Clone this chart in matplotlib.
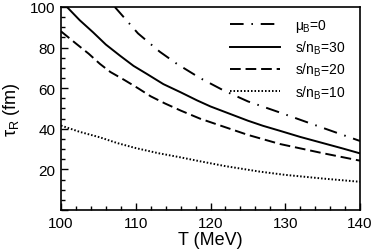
import matplotlib
matplotlib.use("Agg")
import matplotlib.pyplot as plt
from matplotlib.ticker import MultipleLocator, FuncFormatter

plt.rcParams['font.family'] = ['Liberation Sans', 'DejaVu Sans']
plt.rcParams['mathtext.fontset'] = 'custom'
plt.rcParams['mathtext.rm'] = 'Liberation Sans'
plt.rcParams['mathtext.it'] = 'Liberation Sans'

# data
T_mu0 = [107.2, 110.3, 113.2, 115.5, 118.6, 121.7, 125, 129.3, 135, 140]
tau_mu0 = [100, 87, 78, 72, 65, 59, 53.5, 48, 40.5, 34]

T_s30 = [100.8, 102.5, 104.3, 106, 107.9, 109.7, 111.5, 113.7, 116, 118.2, 120, 122.5, 125, 127, 129.3, 132, 135, 137.5, 140]
tau_s30 = [100, 93.5, 87.5, 81.5, 76, 71, 67, 62, 58, 54, 51, 47.5, 44, 41.5, 39, 36, 33, 30.5, 27.9]

T_s20 = [100, 102, 103.7, 105.2, 106.6, 108.5, 110.3, 112, 113.9, 116, 118.6, 121, 125, 129.3, 135, 140]
tau_s20 = [88, 82, 77, 72, 68, 64, 60, 56, 52.5, 49, 45, 42, 37, 32.5, 28, 24.3]

T_s10 = [100, 102.5, 105.2, 107.5, 110, 113, 115.9, 118.6, 122, 126.6, 130, 135, 140]
tau_s10 = [41.6, 38.5, 35.8, 33, 30.5, 28, 26, 24, 21.6, 18.9, 17.3, 15.5, 13.9]

labels = [r'$\mu_\mathrm{B}$=0', r's/n$_\mathrm{B}$=30', r's/n$_\mathrm{B}$=20', r's/n$_\mathrm{B}$=10']

fig = plt.figure(figsize=(3.74, 2.53), dpi=100)
ax = fig.add_axes([61/374, 1-211/253, (360-61)/374, (211-8)/253])

lw = 1.4
ax.plot(T_mu0, tau_mu0, color='black', lw=lw, dashes=(7, 4, 0.8, 4), label=labels[0])
ax.plot(T_s30, tau_s30, color='black', lw=lw, label=labels[1])
ax.plot(T_s20, tau_s20, color='black', lw=lw, dashes=(5.5, 2.5), label=labels[2])
ax.plot(T_s10, tau_s10, color='black', lw=lw, dashes=(0.8, 1.0), label=labels[3])

ax.set_xlim(100, 140)
ax.set_ylim(0, 100)
ax.xaxis.set_major_locator(MultipleLocator(10))
ax.xaxis.set_minor_locator(MultipleLocator(2))
ax.yaxis.set_major_locator(MultipleLocator(20))
ax.yaxis.set_minor_locator(MultipleLocator(5))
ax.yaxis.set_major_formatter(FuncFormatter(lambda v, p: '' if v == 0 else f'{v:.0f}'))
ax.tick_params(which='both', direction='in', top=False, right=False, labelsize=11, width=1)
ax.tick_params(which='major', length=5, pad=4)
ax.tick_params(which='minor', length=3)
for s in ax.spines.values():
    s.set_linewidth(1.2)

ax.set_xlabel('T (MeV)', fontsize=13, labelpad=1)
ax.set_ylabel(r'$\tau_\mathrm{R}$ (fm)', fontsize=13, labelpad=6)

leg = ax.legend(loc='upper right', frameon=False, fontsize=10, handlelength=3.6,
                handletextpad=1.1, labelspacing=0.35, borderaxespad=0.3,
                bbox_to_anchor=(0.985, 1.0))

fig.savefig('out.png', dpi=100)
